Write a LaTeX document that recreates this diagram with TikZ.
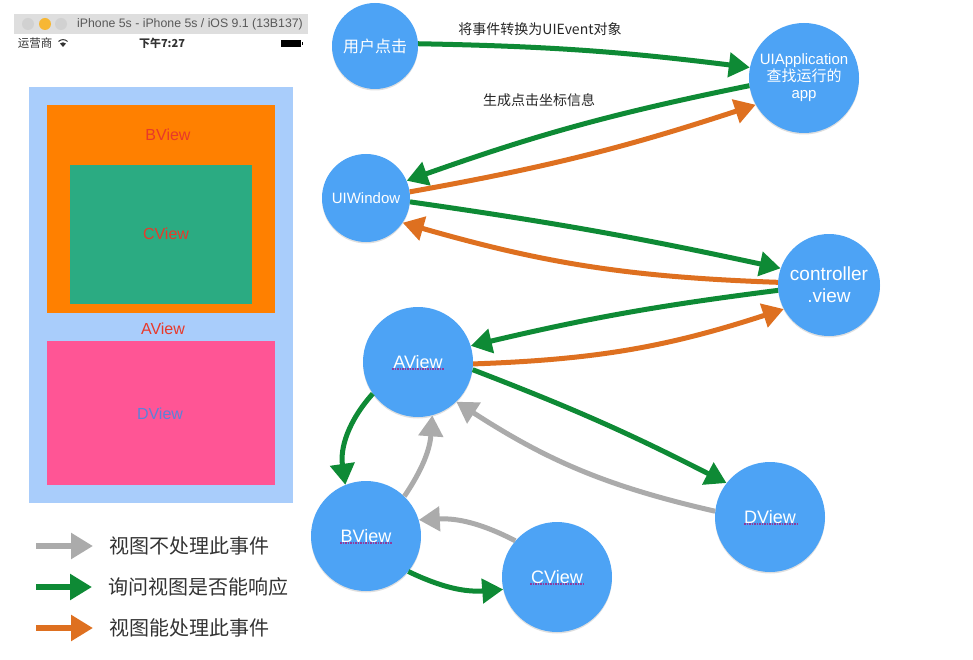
\documentclass[tikz,border=0pt]{standalone}
\usepackage{fontspec}
\setmainfont{Liberation Sans}
\newfontfamily\cjk{Noto Sans CJK SC}
\usetikzlibrary{arrows.meta,shadows}
\definecolor{circblue}{HTML}{4DA3F5}
\definecolor{rootblue}{HTML}{A9CDFB}
\definecolor{viewor}{HTML}{FF8000}
\definecolor{viewgr}{HTML}{2BAB82}
\definecolor{viewpk}{HTML}{FF5595}
\definecolor{arrgreen}{HTML}{0E8A35}
\definecolor{arrorange}{HTML}{DE7020}
\definecolor{arrgray}{HTML}{ABABAB}
\definecolor{labred}{HTML}{E8392A}
\definecolor{labblue}{HTML}{5B82D8}
\definecolor{spell}{HTML}{8E3A9E}
\definecolor{lampor}{HTML}{F7B733}
\tikzset{
  stepcirc/.style={circle,fill=circblue,text=white,inner sep=0pt,minimum size=#1,align=center,
    drop shadow={shadow xshift=0pt,shadow yshift=-1.5pt,opacity=.25}},
  flow/.style={line width=5pt,-{Triangle[width=24pt,length=21pt]},#1},
  keyflow/.style={line width=6pt,shorten >=13pt,-{Triangle[width=25pt,length=22pt]},#1},
  spellline/.style={spell,line width=1.2pt,dash pattern=on 1.5pt off 1pt},
  viewlab/.style={text=labred,font=\fontsize{16}{18}\selectfont},
  note/.style={text=black!85,font=\fontsize{14}{16}\selectfont\cjk},
  legend/.style={text=black!80,anchor=west,font=\fontsize{20}{22}\selectfont\cjk}
}
\begin{document}
\begin{tikzpicture}[x=1pt,y=-1pt]
\useasboundingbox (0,0) rectangle (973,660);
% phone
\fill[black!13] (14,14) rectangle (308,34);
\fill[black!18] (28,24) circle (6);
\fill[lampor] (45,24) circle (6);
\fill[black!18] (61,24) circle (6);
\node[text=black!65,font=\fontsize{12.3}{14}\selectfont] (title) at (190,24.5) {iPhone 5s - iPhone 5s / iOS 9.1 (13B137)};
\node[font=\fontsize{11.5}{13}\selectfont\cjk,text=black!80] (carrier) at (35,43) {运营商};
\node[font=\fontsize{11}{13}\selectfont\bfseries\cjk,text=black!80] (clock) at (162,43) {下午7:27};
\fill[black!80] (63,47) -- (60,43.5) arc (-135:-45:4.2) -- cycle;
\draw[black!80,line width=1pt] (58.5,41.5) arc (-135:-45:6.4);
\fill[black] (281,40) rectangle (301,47);
\fill[black] (301.5,42.5) rectangle (303,45);
% views
\fill[rootblue] (29,87) rectangle (293,503);
\fill[viewor] (47,105) rectangle (275,313);
\fill[viewgr] (70,165) rectangle (252,304);
\fill[viewpk] (47,341) rectangle (275,485);
\node[viewlab] (blab) at (168,135) {BView};
\node[viewlab] (clab) at (166,234) {CView};
\node[viewlab] (alab) at (163,329) {AView};
\node[viewlab,text=labblue] (dlab) at (160,414) {DView};
% circles
\node[stepcirc=86pt,font=\fontsize{16}{18}\selectfont\cjk] (click) at (375,46) {用户点击};
\node[stepcirc=110pt,font=\fontsize{15}{17}\selectfont] (uiapp) at (804,78) {UIApplication\\{\cjk 查找运行的}\\app};
\node[stepcirc=88pt,font=\fontsize{15}{17}\selectfont] (uiwin) at (366,198) {UIWindow};
\node[stepcirc=102pt,font=\fontsize{19}{22}\selectfont] (ctrl) at (829,285) {controller\\.view};
\node[stepcirc=110pt,font=\fontsize{18}{20}\selectfont] (aview) at (418,362) {AView};
\node[stepcirc=110pt,font=\fontsize{18}{20}\selectfont] (bview) at (366,536) {BView};
\node[stepcirc=110pt,font=\fontsize{18}{20}\selectfont] (cview) at (557,577) {CView};
\node[stepcirc=110pt,font=\fontsize{18}{20}\selectfont] (dview) at (770,517) {DView};
\draw[spellline] (392,369) -- (444,369);
\draw[spellline] (340,543) -- (392,543);
\draw[spellline] (530,584) -- (583,584);
\draw[spellline] (744,524) -- (797,524);
% notes
\node[note] (n1) at (540,29) {将事件转换为UIEvent对象};
\node[note] (n2) at (539,100) {生成点击坐标信息};
% arrows
\draw[flow=arrgreen] (click.3) to[bend left=3] (uiapp.169);
\draw[flow=arrgreen] (uiapp.188) to[bend right=4] (uiwin.23);
\draw[flow=arrorange] (uiwin.8) to[bend right=4] (uiapp.209);
\draw[flow=arrgreen] (uiwin.-5) to[bend left=2] (ctrl.161);
\draw[flow=arrorange] (ctrl.177) to[bend left=7] (uiwin.-34);
\draw[flow=arrgreen] (ctrl.186) to[bend right=3] (aview.17);
\draw[flow=arrorange] (aview.-2) to[bend right=8] (ctrl.208);
\draw[flow=arrgreen] (aview.-8) to[bend left=3] (dview.142);
\draw[flow=arrgray] (dview.174) to[bend left=10] (aview.-46);
\draw[flow=arrgreen] (aview.215) to[bend right=25] (bview.112);
\draw[flow=arrgray] (bview.46) to[bend right=15] (aview.-75);
\draw[flow=arrgray] (cview.139) to[bend right=15] (bview.17);
\draw[flow=arrgreen] (bview.-40) to[bend right=15] (cview.193);
% legend
\node[legend] (lg1) at (106,546) {视图不处理此事件};
\node[legend] (lg2) at (105,587) {询问视图是否能响应};
\node[legend] (lg3) at (106,628) {视图能处理此事件};
\coordinate (t1) at (36,546);
\coordinate (t2) at (36,587);
\coordinate (t3) at (36,628);
\draw[keyflow=arrgray] (t1) -- (lg1.west);
\draw[keyflow=arrgreen] (t2) -- (lg2.west);
\draw[keyflow=arrorange] (t3) -- (lg3.west);
\end{tikzpicture}
\end{document}
